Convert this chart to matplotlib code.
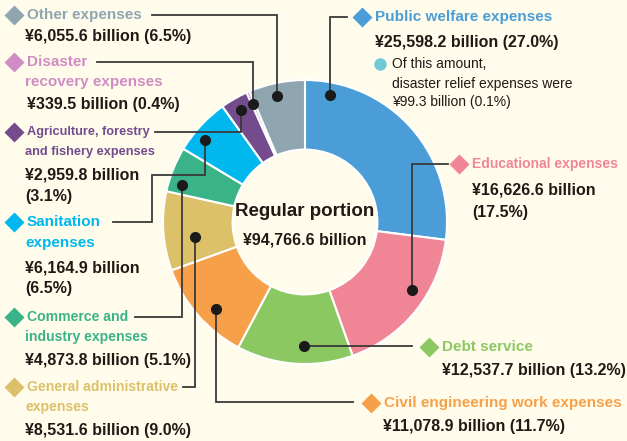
import numpy as np
import matplotlib.pyplot as plt

# Regular portion of expenditures by purpose (billion yen), clockwise from the top
categories = ["Public welfare expenses", "Educational expenses", "Debt service",
              "Civil engineering work expenses", "General administrative expenses",
              "Commerce and industry expenses", "Sanitation expenses",
              "Agriculture, forestry and fishery expenses",
              "Disaster recovery expenses", "Other expenses"]
amounts = [25598.2, 16626.6, 12537.7, 11078.9, 8531.6, 4873.8, 6164.9, 2959.8, 339.5, 6055.6]
shares = [27.0, 17.5, 13.2, 11.7, 9.0, 5.1, 6.5, 3.1, 0.4, 6.5]
total = 94766.6
relief_amount = 99.3
relief_share = 0.1

colors = ["#4a9dd6", "#f08596", "#8cc862", "#f7a04a", "#dcc06a",
          "#3bb389", "#00b7ee", "#744c8e", "#d08cc4", "#8fa6b0"]

W, H = 627, 441
def Y(y):
    return H - y

bg = "#fffcec"
dark = "#231815"
plt.rcParams['font.family'] = ['Liberation Sans', 'DejaVu Sans']

fig = plt.figure(figsize=(W / 100, H / 100), dpi=100, facecolor=bg)
ax = fig.add_axes([0, 0, 1, 1])

cx, cy, R = 305, Y(222), 142
wedges, _ = ax.pie(amounts, colors=colors, startangle=90, counterclock=False,
                   center=(cx, cy), radius=R, frame=True,
                   wedgeprops=dict(width=R * 0.49, edgecolor='white', linewidth=1.5))
ax.set_xlim(0, W)
ax.set_ylim(0, H)
ax.set_aspect('equal')
ax.axis('off')

# where the leader dot sits inside each wedge: fraction along the arc, radius
dot_frac = [0.115, 0.4, 0.42, 0.42, 0.37, 0.22, 0.36, 0.5, 0.45, 0.46]
dot_rad = [129, 127, 124, 124, 111, 128, 129, 129, 129, 129]

dots = []
for w, f, r in zip(wedges, dot_frac, dot_rad):
    a = np.radians(w.theta2 - f * (w.theta2 - w.theta1))
    dots.append((cx + r * np.cos(a), cy + r * np.sin(a)))

# leader routes: turning points after the dot ("v" = go vertical to y, "h" = go horizontal to x)
routes = [
    [("v", Y(17)), ("h", 347)],
    [("v", Y(164)), ("h", 448)],
    [("h", 412)],
    [("v", Y(402)), ("h", 353)],
    [("v", Y(387)), ("h", 183)],
    [("v", Y(317)), ("h", 135)],
    [("v", Y(175)), ("h", 152), ("v", Y(222)), ("h", 113)],
    [("v", Y(132)), ("h", 155)],
    [("v", Y(62)), ("h", 97)],
    [("v", Y(15)), ("h", 152)],
]
for (dx, dy), route in zip(dots, routes):
    xs, ys = [dx], [dy]
    for kind, val in route:
        if kind == "v":
            xs.append(xs[-1]); ys.append(val)
        else:
            xs.append(val); ys.append(ys[-1])
    ax.plot(xs, ys, color="#3a3a3a", lw=1.3, solid_joinstyle='miter', zorder=3)
    ax.plot(dx, dy, 'o', color="#1a1a1a", ms=7, zorder=4)

# center text
ax.text(cx, Y(212), "Regular portion", ha='center', va='center', fontsize=13.5,
        fontweight='bold', color=dark)
ax.text(cx, Y(240), f"¥{total:,.1f} billion", ha='center', va='center', fontsize=11.5,
        fontweight='bold', color=dark)

def value_str(i):
    return f"¥{amounts[i]:,.1f} billion"

def pct_str(i):
    return f"({shares[i]:.1f}%)"

# label blocks: (index, diamond x, title size, y of title lines, title lines, value lines)
labels = [
    (9, 14, 11, [15], ["Other expenses"], [(25, 36, value_str(9) + " " + pct_str(9))]),
    (8, 14, 11, [62, 82], ["Disaster", "recovery expenses"], [(27, 104, value_str(8) + " " + pct_str(8))]),
    (7, 14, 9.2, [132, 152], ["Agriculture, forestry", "and fishery expenses"],
     [(25, 175, value_str(7)), (25, 196, pct_str(7))]),
    (6, 14, 11, [222, 243], ["Sanitation", "expenses"],
     [(25, 268, value_str(6)), (25, 289, pct_str(6))]),
    (5, 14, 10.1, [317, 337], ["Commerce and", "industry expenses"], [(25, 360, value_str(5) + " " + pct_str(5))]),
    (4, 14, 10.1, [387, 407], ["General administrative", "expenses"], [(25, 430, value_str(4) + " " + pct_str(4))]),
    (0, 362, 11, [17], ["Public welfare expenses"], [(375, 42, value_str(0) + " " + pct_str(0))]),
    (1, 459, 10, [164], ["Educational expenses"], [(472, 190, value_str(1)), (472, 212, pct_str(1))]),
    (2, 429, 11, [347], ["Debt service"], [(442, 370, value_str(2) + " " + pct_str(2))]),
    (3, 371, 11, [403], ["Civil engineering work expenses"], [(383, 427, value_str(3) + " " + pct_str(3))]),
]
for i, dxm, fs, tys, titles, vals in labels:
    ax.plot(dxm, Y(tys[0]), 'D', color=colors[i], ms=10, mec='none', zorder=4)
    for k, (ty, t) in enumerate(zip(tys, titles)):
        ax.text(dxm + 13 if k == 0 else dxm + 11, Y(ty), t, ha='left', va='center',
                fontsize=fs, fontweight='bold', color=colors[i])
    for vx, vy, t in vals:
        ax.text(vx, Y(vy), t, ha='left', va='center', fontsize=11.5,
                fontweight='bold', color=dark)

# disaster relief note under public welfare
ax.plot(380, Y(64), 'o', color="#6fcad6", ms=9, mec='none')
note = ["Of this amount,", "disaster relief expenses were",
        f"¥{relief_amount:.1f} billion ({relief_share:.1f}%)"]
for ny, t in zip([64, 84, 102], note):
    ax.text(392, Y(ny), t, ha='left', va='center', fontsize=10, color=dark)

fig.savefig("out.png", dpi=100, facecolor=bg)
